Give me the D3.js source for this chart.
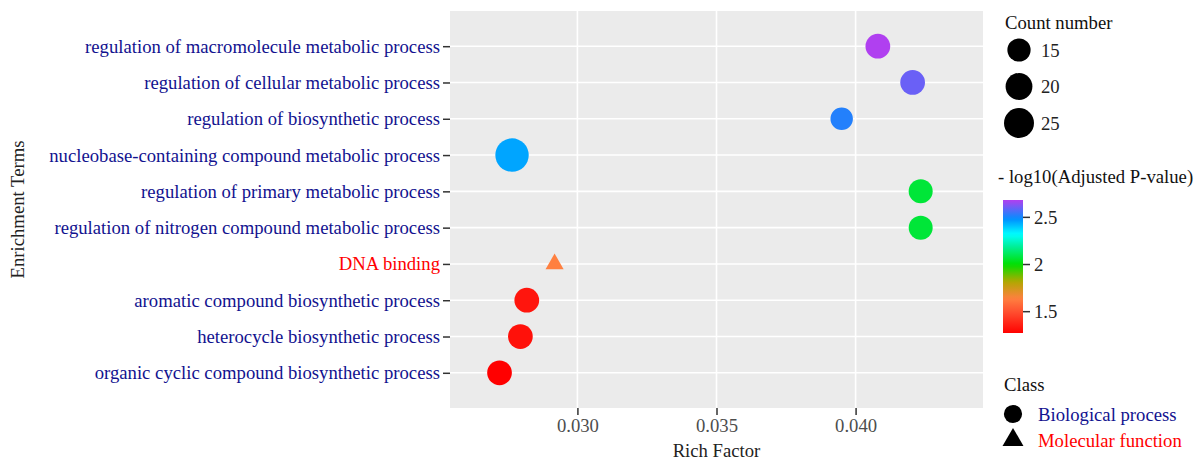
<!DOCTYPE html>
<html><head><meta charset="utf-8">
<script src="https://cdn.jsdelivr.net/npm/d3@7"></script>
<style>
body{margin:0;background:#fff}
svg{display:block}
text{font-family:"Liberation Serif","Times New Roman",serif}
</style>
</head><body>
<svg id="chart" width="1195" height="461"></svg>
<script>
// ---------- data ----------
const terms = [
  "regulation of macromolecule metabolic process",
  "regulation of cellular metabolic process",
  "regulation of biosynthetic process",
  "nucleobase-containing compound metabolic process",
  "regulation of primary metabolic process",
  "regulation of nitrogen compound metabolic process",
  "DNA binding",
  "aromatic compound biosynthetic process",
  "heterocycle biosynthetic process",
  "organic cyclic compound biosynthetic process"
];
const termClass = [
  "Biological process","Biological process","Biological process","Biological process",
  "Biological process","Biological process","Molecular function",
  "Biological process","Biological process","Biological process"
];
const richFactor = [0.0408, 0.04205, 0.0395, 0.02765, 0.04234, 0.04234, 0.02918, 0.02818, 0.02795, 0.02720];
const countNumber = [17, 17, 14, 31, 16, 16, 5, 17, 17, 17];
const negLog10P = [2.68, 2.60, 2.52, 2.45, 2.07, 2.07, 1.64, 1.33, 1.32, 1.27];
const xTickValues = [0.030, 0.035, 0.040];
const xTickLabels = ["0.030", "0.035", "0.040"];
const sizeBreaks = [15, 20, 25];
const colorBreaks = [1.5, 2, 2.5];
const colorBreakLabels = ["1.5", "2", "2.5"];
const classNames = ["Biological process", "Molecular function"];

// ---------- styles / scales ----------
const FONT = 18.7;
const SERIF = '"Liberation Serif","Times New Roman",serif';
const classTextColor = {"Biological process": "#12128f", "Molecular function": "#ff0000"};
const classShape = {"Biological process": d3.symbolCircle, "Molecular function": d3.symbolTriangle};
const colorStopValues = [1.27, 1.5, 1.64, 1.82, 2.0, 2.2, 2.32, 2.48, 2.68];
const colorStopColors = ["#ff0000", "#ff5030", "#ff8040", "#b0a800", "#00e000", "#00f0a0", "#00ffff", "#0090ff", "#b040f0"];

const svg = d3.select("#chart");
svg.append("rect").attr("width", 1195).attr("height", 461).attr("fill", "#fff");

const P = {left: 450, right: 983, top: 11, bottom: 408};
const x = d3.scaleLinear().domain([0.02542, 0.04458]).range([P.left, P.right]);
const y = d3.scalePoint().domain(terms).range([P.top, P.bottom]).padding(0.97);
const r = d3.scaleSqrt().domain([0, 25]).range([0, 15]);
const color = d3.scaleLinear().domain(colorStopValues).range(colorStopColors)
  .interpolate(d3.interpolateRgb).clamp(true);

// panel
svg.append("rect").attr("x", P.left).attr("y", P.top)
  .attr("width", P.right - P.left).attr("height", P.bottom - P.top).attr("fill", "#ebebeb");

// grid
svg.append("g").selectAll("line").data(xTickValues).join("line")
  .attr("x1", d => x(d)).attr("x2", d => x(d)).attr("y1", P.top).attr("y2", P.bottom)
  .attr("stroke", "#fff").attr("stroke-width", 1.6);
svg.append("g").selectAll("line").data(terms).join("line")
  .attr("x1", P.left).attr("x2", P.right).attr("y1", d => y(d)).attr("y2", d => y(d))
  .attr("stroke", "#fff").attr("stroke-width", 1.6);

// x axis
const xAxis = svg.append("g").attr("transform", `translate(0,${P.bottom})`)
  .call(d3.axisBottom(x).tickValues(xTickValues).tickFormat((d, i) => xTickLabels[i]).tickSize(7).tickPadding(4));
xAxis.attr("font-family", SERIF);
xAxis.select(".domain").remove();
xAxis.selectAll(".tick line").attr("stroke", "#333").attr("stroke-width", 1.5);
xAxis.selectAll(".tick text").attr("fill", "#4d4d4d").style("font-size", FONT + "px").style("font-family", SERIF);

// y axis
const yAxis = svg.append("g").attr("transform", `translate(${P.left},0)`)
  .call(d3.axisLeft(y).tickSize(7).tickPadding(3));
yAxis.attr("font-family", SERIF);
yAxis.select(".domain").remove();
yAxis.selectAll(".tick line").attr("stroke", "#333").attr("stroke-width", 1.5);
yAxis.selectAll(".tick text").style("font-size", FONT + "px").style("font-family", SERIF)
  .attr("fill", d => classTextColor[termClass[terms.indexOf(d)]]);

// axis titles
svg.append("text").attr("x", (P.left + P.right) / 2).attr("y", 457)
  .attr("text-anchor", "middle").attr("fill", "#222").style("font-size", FONT + "px").text("Rich Factor");
svg.append("text").attr("transform", `translate(24,${(P.top + P.bottom) / 2}) rotate(-90)`)
  .attr("text-anchor", "middle").attr("fill", "#222").style("font-size", FONT + "px").text("Enrichment Terms");

// points
const pts = terms.map((t, i) => ({t, cls: termClass[i], rf: richFactor[i], n: countNumber[i], p: negLog10P[i]}));
svg.append("g").selectAll("path").data(pts).join("path")
  .attr("transform", d => `translate(${x(d.rf)},${y(d.t)})`)
  .attr("d", d => d3.symbol().type(classShape[d.cls]).size(Math.PI * r(d.n) ** 2)())
  .attr("fill", d => color(d.p));

// ---------- legends ----------
const L = svg.append("g");
// Count number
L.append("text").attr("x", 1005).attr("y", 29).style("font-size", FONT + "px").attr("fill", "#111").text("Count number");
const sizeY = d3.scalePoint().domain(sizeBreaks).range([50, 123]);
L.append("g").selectAll("circle").data(sizeBreaks).join("circle")
  .attr("cx", 1019).attr("cy", d => sizeY(d)).attr("r", d => r(d)).attr("fill", "#000");
L.append("g").selectAll("text").data(sizeBreaks).join("text")
  .attr("x", 1041).attr("y", d => sizeY(d)).attr("dy", "0.35em")
  .style("font-size", FONT + "px").attr("fill", "#222").text(d => d);

// color bar
L.append("text").attr("x", 998).attr("y", 183).style("font-size", FONT + "px").attr("fill", "#111")
  .text("- log10(Adjusted P-value)");
const cb = d3.scaleLinear().domain([1.274, 2.684]).range([333, 200]);
const defs = svg.append("defs");
const grad = defs.append("linearGradient").attr("id", "cbar")
  .attr("x1", 0).attr("y1", 1).attr("x2", 0).attr("y2", 0);
const nStops = 40;
grad.selectAll("stop").data(d3.range(nStops + 1)).join("stop")
  .attr("offset", d => d / nStops)
  .attr("stop-color", d => color(cb.domain()[0] + (cb.domain()[1] - cb.domain()[0]) * d / nStops));
L.append("rect").attr("x", 1003).attr("y", 200).attr("width", 20).attr("height", 133).attr("fill", "url(#cbar)");
L.append("g").selectAll("line").data(colorBreaks).join("line")
  .attr("x1", 1023).attr("x2", 1030).attr("y1", d => cb(d)).attr("y2", d => cb(d))
  .attr("stroke", "#333").attr("stroke-width", 1.5);
L.append("g").selectAll("text").data(colorBreaks).join("text")
  .attr("x", 1034).attr("y", d => cb(d)).attr("dy", "0.35em")
  .style("font-size", FONT + "px").attr("fill", "#222").text((d, i) => colorBreakLabels[i]);

// Class
L.append("text").attr("x", 1004).attr("y", 391).style("font-size", FONT + "px").attr("fill", "#111").text("Class");
const classY = d3.scalePoint().domain(classNames).range([414, 440]);
L.append("g").selectAll("path").data(classNames).join("path")
  .attr("transform", d => `translate(1013,${classY(d)})`)
  .attr("d", d => d3.symbol().type(classShape[d]).size(d === "Biological process" ? 260 : 190)())
  .attr("fill", "#000");
L.append("g").selectAll("text").data(classNames).join("text")
  .attr("x", 1038).attr("y", d => classY(d)).attr("dy", "0.35em")
  .style("font-size", FONT + "px").attr("fill", d => classTextColor[d]).text(d => d);
</script>
</body></html>
